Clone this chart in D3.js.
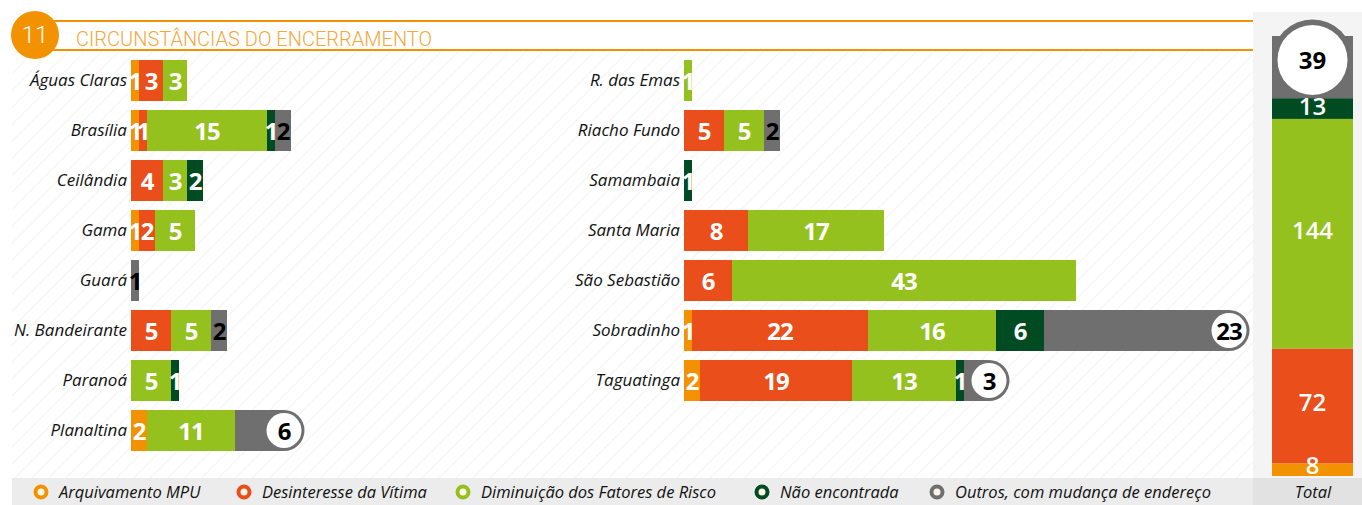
<!DOCTYPE html>
<html>
<head>
<meta charset="utf-8">
<script src="https://cdn.jsdelivr.net/npm/d3@7"></script>
<style>
  body { margin: 0; background: #fff; }
  svg { display: block; }
</style>
</head>
<body>
<div id="container"></div>
<script>
// series (legend order)
let series = ["Arquivamento MPU", "Desinteresse da Vítima", "Diminuição dos Fatores de Risco", "Não encontrada", "Outros, com mudança de endereço"];
let colors = ["#f39200", "#e94e1b", "#95c11f", "#014b22", "#706f6f"];

let leftCities = ["Águas Claras", "Brasília", "Ceilândia", "Gama", "Guará", "N. Bandeirante", "Paranoá", "Planaltina"];
let rightCities = ["R. das Emas", "Riacho Fundo", "Samambaia", "Santa Maria", "São Sebastião", "Sobradinho", "Taguatinga"];

// values per city: [MPU, Desinteresse, Diminuição, Não encontrada, Outros]
let aguasClaras = [1, 3, 3, 0, 0];
let brasilia = [1, 1, 15, 1, 2];
let ceilandia = [0, 4, 3, 2, 0];
let gama = [1, 2, 5, 0, 0];
let guara = [0, 0, 0, 0, 1];
let nBandeirante = [0, 5, 5, 0, 2];
let paranoa = [0, 0, 5, 1, 0];
let planaltina = [2, 0, 11, 0, 6];
let rEmas = [0, 0, 1, 0, 0];
let riachoFundo = [0, 5, 5, 0, 2];
let samambaia = [0, 0, 0, 1, 0];
let santaMaria = [0, 8, 17, 0, 0];
let saoSebastiao = [0, 6, 43, 0, 0];
let sobradinho = [1, 22, 16, 6, 23];
let taguatinga = [2, 19, 13, 1, 3];

let totals = [8, 72, 144, 13, 39];

let leftValues = [aguasClaras, brasilia, ceilandia, gama, guara, nBandeirante, paranoa, planaltina];
let rightValues = [rEmas, riachoFundo, samambaia, santaMaria, saoSebastiao, sobradinho, taguatinga];

let w = 1362;
let h = 505;

let viz = d3.select("#container")
  .append("svg")
    .attr("width", w)
    .attr("height", h)
    .style("background-color", "#fff");

// hatch background
let defs = viz.append("defs");
let pat = defs.append("pattern")
    .attr("id", "hatch")
    .attr("patternUnits", "userSpaceOnUse")
    .attr("width", 12)
    .attr("height", 12)
    .attr("patternTransform", "rotate(45)");
pat.append("line")
    .attr("x1", 0).attr("y1", 0).attr("x2", 0).attr("y2", 12)
    .attr("stroke", "#e8e8e8")
    .attr("stroke-width", 1);

viz.append("rect")
    .attr("x", 12).attr("y", 52)
    .attr("width", 1241).attr("height", 426)
    .attr("fill", "url(#hatch)");

// total panel background
viz.append("rect")
    .attr("x", 1253).attr("y", 12)
    .attr("width", 109).attr("height", 466)
    .attr("fill", "#f4f4f4");

// header
viz.append("line")
    .attr("x1", 35).attr("x2", 1253).attr("y1", 21).attr("y2", 21)
    .attr("stroke", "#f39200").attr("stroke-width", 2);
viz.append("line")
    .attr("x1", 35).attr("x2", 1253).attr("y1", 50).attr("y2", 50)
    .attr("stroke", "#f39200").attr("stroke-width", 2);
viz.append("circle")
    .attr("cx", 35).attr("cy", 35).attr("r", 24)
    .attr("fill", "#f39200");
viz.append("text")
    .attr("x", 35).attr("y", 43)
    .attr("text-anchor", "middle")
    .attr("font-family", "Roboto")
    .attr("font-weight", 300)
    .attr("font-size", 24)
    .attr("fill", "#fff")
    .text("11");
viz.append("text")
    .attr("x", 76).attr("y", 45.5)
    .attr("font-family", "Roboto")
    .attr("font-weight", 300)
    .attr("font-size", 20)
    .attr("fill", "#f5a73b")
    .text("CIRCUNSTÂNCIAS DO ENCERRAMENTO");

let x = d3.scaleLinear().domain([0, 68]).range([0, 544]);

function hasBadge(d){
  return d.segs.some(function(s){ return s.k == 4 && s.v >= 3; });
}

function drawColumn(cities, values, x0, y0, y1){
  let y = d3.scaleBand()
      .domain(cities)
      .range([y0, y1])
      .paddingInner(0.18)
      .paddingOuter(0.09);

  let rows = cities.map(function(c, i){
    let start = 0;
    let segs = values[i].map(function(v, k){
      let s = {city: c, k: k, v: v, start: start};
      start += v;
      return s;
    });
    return {city: c, segs: segs.filter(function(s){ return s.v > 0; }), total: start};
  });

  let g = viz.append("g").attr("transform", "translate(" + x0 + ",0)");

  let rg = g.selectAll(".row").data(rows).enter()
    .append("g")
      .attr("class", "row");

  rg.append("text")
      .attr("x", -4)
      .attr("y", function(d){ return y(d.city) + y.bandwidth() / 2 + 5; })
      .attr("text-anchor", "end")
      .attr("font-family", "Open Sans")
      .attr("font-style", "italic")
      .attr("font-size", 17)
      .attr("fill", "#111")
      .text(function(d){ return d.city; });

  // rounded cap behind grey badge segment
  rg.filter(hasBadge)
    .append("circle")
      .attr("cx", function(d){ return x(d.total) + 1; })
      .attr("cy", function(d){ return y(d.city) + y.bandwidth() / 2; })
      .attr("r", y.bandwidth() / 2)
      .attr("fill", colors[4]);

  rg.selectAll(".seg").data(function(d){ return d.segs; }).enter()
    .append("rect")
      .attr("class", "seg")
      .attr("x", function(d){ return x(d.start); })
      .attr("y", function(d){ return y(d.city); })
      .attr("width", function(d){ return x(d.v); })
      .attr("height", y.bandwidth())
      .attr("fill", function(d){ return colors[d.k]; });

  rg.filter(hasBadge)
    .append("circle")
      .attr("cx", function(d){ return x(d.total) + 1; })
      .attr("cy", function(d){ return y(d.city) + y.bandwidth() / 2; })
      .attr("r", y.bandwidth() / 2 - 3)
      .attr("fill", "#fff");

  rg.selectAll(".lab").data(function(d){ return d.segs; }).enter()
    .append("text")
      .attr("class", "lab")
      .attr("x", function(d){
        if(d.k == 4 && d.v >= 3){ return x(d.start + d.v) + 1; }
        return x(d.start + d.v / 2);
      })
      .attr("y", function(d){ return y(d.city) + y.bandwidth() / 2 + 9; })
      .attr("text-anchor", "middle")
      .attr("font-family", "Open Sans")
      .attr("font-weight", 700)
      .attr("font-size", 24)
      .attr("letter-spacing", -1)
      .attr("fill", function(d){ return d.k == 4 ? "#000" : "#fff"; })
      .text(function(d){ return d.v; });
}

drawColumn(leftCities, leftValues, 131, 55.5, 455.5);
drawColumn(rightCities, rightValues, 684, 55.5, 405.5);

// total column
let totalSum = d3.sum(totals);
let ty = d3.scaleLinear().domain([0, totalSum]).range([476, 36]);
let tx0 = 1272, tw = 81;
let tsegs = [];
let acc = 0;
totals.forEach(function(v, k){
  tsegs.push({k: k, v: v, start: acc});
  acc += v;
});
let tg = viz.append("g");
tg.append("circle")
    .attr("cx", tx0 + tw / 2)
    .attr("cy", ty(totalSum) + 24)
    .attr("r", tw / 2)
    .attr("fill", colors[4]);
tg.selectAll(".tseg").data(tsegs).enter()
  .append("rect")
    .attr("class", "tseg")
    .attr("x", tx0)
    .attr("y", function(d){ return ty(d.start + d.v); })
    .attr("width", tw)
    .attr("height", function(d){ return ty(d.start) - ty(d.start + d.v); })
    .attr("fill", function(d){ return colors[d.k]; });
tg.append("circle")
    .attr("cx", tx0 + tw / 2)
    .attr("cy", ty(totalSum) + 24)
    .attr("r", 35)
    .attr("fill", "#fff");
tg.selectAll(".tlab").data(tsegs).enter()
  .append("text")
    .attr("x", tx0 + tw / 2)
    .attr("y", function(d){
      if(d.k == 4){ return ty(totalSum) + 24 + 9; }
      if(d.k == 0){ return ty(d.start) - 2; }
      if(d.k == 3){ return ty(d.start + d.v / 2) + 6; }
      if(d.k == 2){ return ty(d.start + d.v / 2) + 5; }
      return ty(d.start + d.v / 2) + 5;
    })
    .attr("text-anchor", "middle")
    .attr("font-family", "Open Sans")
    .attr("font-weight", function(d){ return d.k == 4 ? 700 : 600; })
    .attr("font-size", 24)
    .attr("fill", function(d){ return d.k == 4 ? "#000" : "#fff"; })
    .text(function(d){ return d.v; });

// legend
viz.append("rect")
    .attr("x", 12).attr("y", 478)
    .attr("width", 1241).attr("height", 27)
    .attr("fill", "#ececec");
viz.append("rect")
    .attr("x", 1253).attr("y", 478)
    .attr("width", 109).attr("height", 27)
    .attr("fill", "#e2e2e2");

let legendX = [41, 244, 463, 762, 937];
let lg = viz.selectAll(".leg").data(series).enter()
  .append("g")
    .attr("class", "leg")
    .attr("transform", function(d, i){ return "translate(" + legendX[i] + ",492)"; });
lg.append("circle")
    .attr("r", 5.5)
    .attr("fill", "#fdf5e6")
    .attr("stroke", function(d, i){ return colors[i]; })
    .attr("stroke-width", 4);
lg.append("text")
    .attr("x", 18)
    .attr("y", 6)
    .attr("font-family", "Open Sans")
    .attr("font-style", "italic")
    .attr("font-size", 16.5)
    .attr("fill", "#111")
    .text(function(d){ return d; });

viz.append("text")
    .attr("x", 1313).attr("y", 498)
    .attr("text-anchor", "middle")
    .attr("font-family", "Open Sans")
    .attr("font-style", "italic")
    .attr("font-size", 16.5)
    .attr("fill", "#111")
    .text("Total");
</script>
</body>
</html>
